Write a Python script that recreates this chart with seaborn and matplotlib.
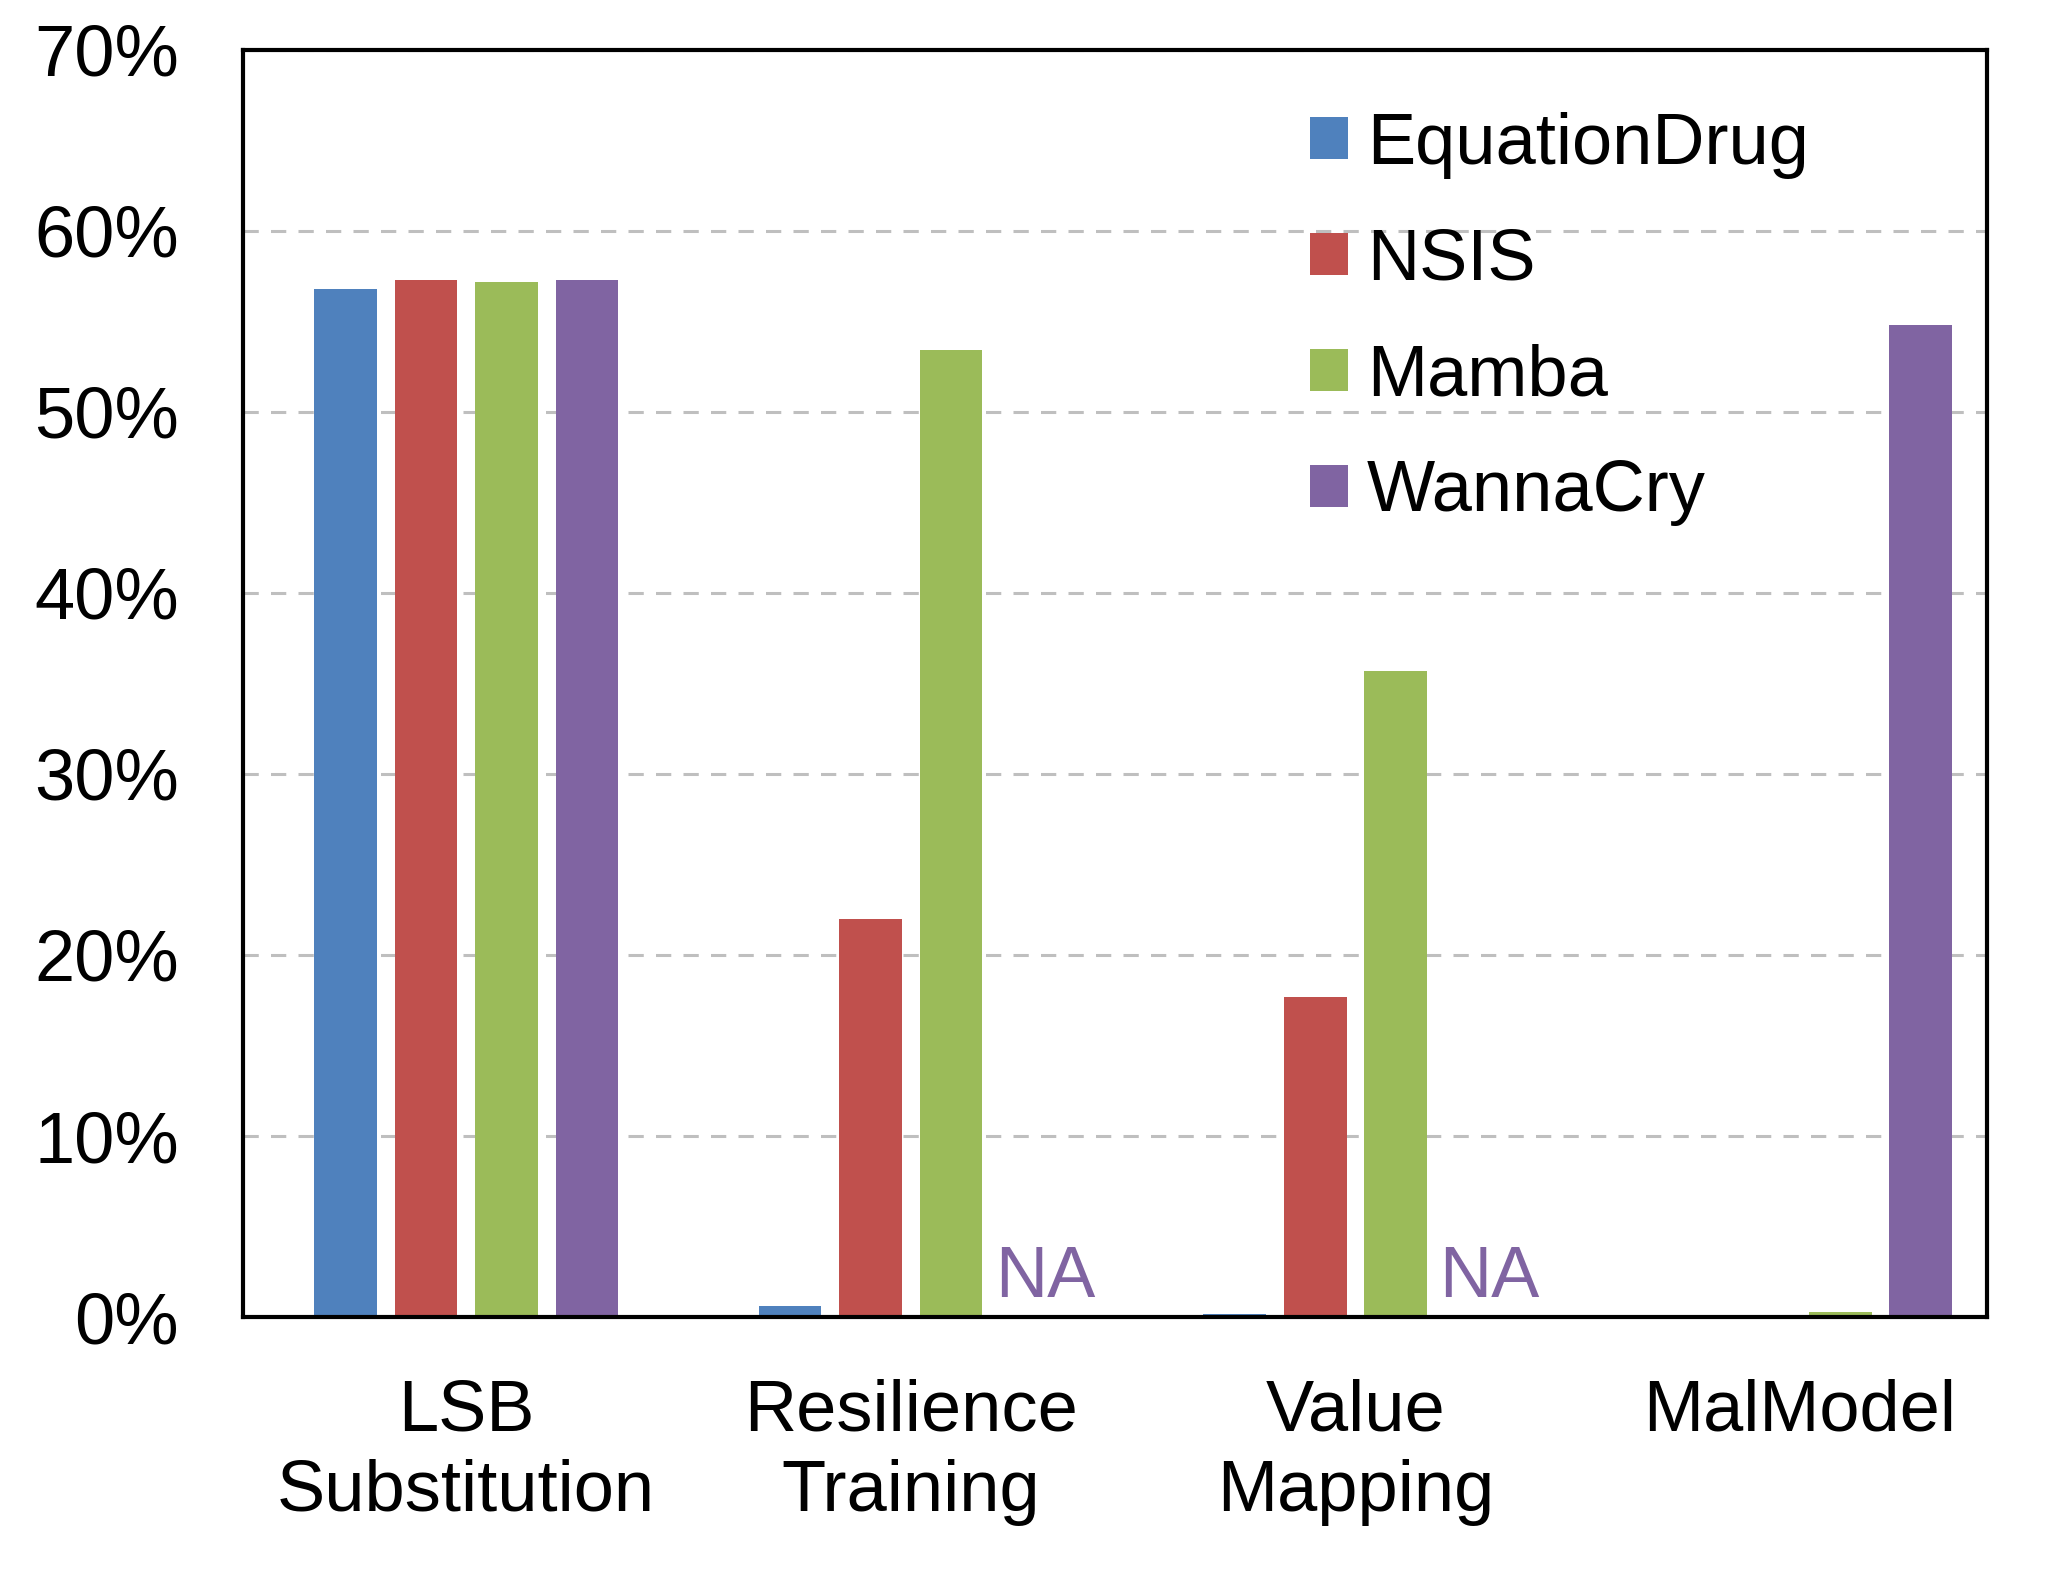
import numpy as np
import pandas as pd
import matplotlib
matplotlib.use("Agg")
import matplotlib.pyplot as plt
import seaborn as sns

categories = ["LSB\nSubstitution", "Resilience\nTraining", "Value\nMapping", "MalModel"]
series = ["EquationDrug", "NSIS", "Mamba", "WannaCry"]
equationdrug = [56.8, 0.6, 0.15, 0.0]
nsis = [57.3, 22.0, 17.7, 0.0]
mamba = [57.2, 53.4, 35.7, 0.3]
wannacry = [57.3, np.nan, np.nan, 54.8]
colors = ["#4F81BD", "#C0504D", "#9BBB59", "#8064A2"]
yticks = [0, 10, 20, 30, 40, 50, 60, 70]
ytick_labels = ["0%", "10%", "20%", "30%", "40%", "50%", "60%", "70%"]

rows = []
for s, vals in zip(series, [equationdrug, nsis, mamba, wannacry]):
    for c, v in zip(categories, vals):
        rows.append({"category": c, "series": s, "value": v})
df = pd.DataFrame(rows)

sns.set_theme(style="white")
plt.rcParams['font.family'] = ['Liberation Sans', 'DejaVu Sans']
plt.rcParams['text.color'] = 'black'

fig = plt.figure(figsize=(20.53, 15.86), dpi=100)
ax = fig.add_axes([0.1184, 0.1696, 0.9679 - 0.1184, 0.9685 - 0.1696])

sns.barplot(data=df, x="category", y="value", hue="series", order=categories,
            hue_order=series, palette=colors, width=0.7245, gap=0.22,
            linewidth=0, saturation=1, ax=ax, errorbar=None)

ax.set_ylim(0, 70)
ax.set_xlim(-0.502, 3.421)
ax.set_yticks(yticks)
ax.set_yticklabels(ytick_labels)
ax.set_xlabel("")
ax.set_ylabel("")
ax.tick_params(axis="both", length=0, labelsize=52, colors="black")
ax.tick_params(axis="y", pad=46)
ax.tick_params(axis="x", pad=44)
for lbl in ax.get_xticklabels():
    lbl.set_verticalalignment("top")
    lbl.set_linespacing(1.26)

ax.set_axisbelow(True)
ax.yaxis.grid(True, color="#BFBFBF", linewidth=2.2, linestyle=(0, (5, 4)))
ax.xaxis.grid(False)
for sp in ax.spines.values():
    sp.set_color("black")
    sp.set_linewidth(3.0)

# NA markers for missing WannaCry bars
step = 0.7245 / 4
for i, v in enumerate(wannacry):
    if np.isnan(v):
        xpos = i + 1.5 * step
        ax.text(xpos + 0.03, 0.3, "NA", color="#8064A2", fontsize=52,
                ha="center", va="bottom",
                family=['Liberation Sans Narrow', 'Liberation Sans'])

handles, labels = ax.get_legend_handles_labels()
leg = ax.legend(handles, labels, loc="upper left", bbox_to_anchor=(0.612, 0.951),
                frameon=False, fontsize=52, handlelength=0.52, handleheight=0.52,
                handletextpad=0.26, labelspacing=0.675, borderpad=0, borderaxespad=0)
for t in leg.get_texts():
    t.set_color("black")

fig.savefig("out.png", dpi=100)
